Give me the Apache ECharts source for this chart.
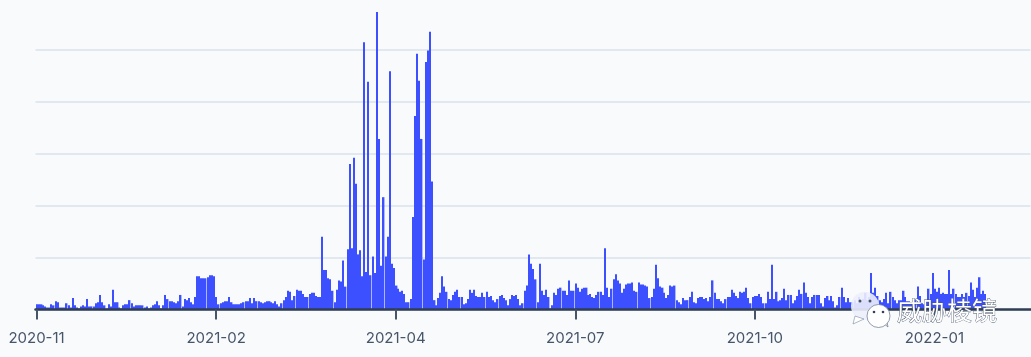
<!DOCTYPE html>
<html>
<head>
<meta charset="utf-8">
<title>chart</title>
<style>
  html, body { margin: 0; padding: 0; background: #f8fafc; }
  #chart { width: 1031px; height: 357px; }
</style>
<script src="https://cdn.jsdelivr.net/npm/echarts@6/dist/echarts.min.js"></script>
</head>
<body>
<div id="chart"></div>
<script>
const tickLabels = ['2020-11', '2021-02', '2021-04', '2021-07', '2021-10', '2022-01'];
const tickEvery = 85;
const slotCount = 471;

// one value per bar, left to right
const counts = [
  5,5,5,4,3,2,2,5,4,8,7,2,2,2,6,4,2,11,4,2,1,3,4,3,10,3,3,3,6,7,14,7,4,1,5,3,19,7,7,2,1,4,5,5,9,6,3,4,4,4,4,2,3,1,2,4,5,8,4,1,4,14,10,8,8,7,
  6,8,14,3,10,9,11,7,5,12,32,32,30,30,30,31,33,33,32,12,5,6,7,8,8,12,7,5,5,5,5,6,7,8,8,11,6,11,8,8,7,6,7,8,8,7,6,8,5,3,6,9,12,18,17,9,13,19,18,
  18,15,12,12,15,16,16,13,12,12,70,38,38,30,29,18,7,19,28,27,47,22,58,140,59,146,121,53,57,32,257,36,219,33,51,35,286,164,42,108,51,70,229,44,40,23,
  20,17,18,15,7,7,10,89,186,246,220,164,48,238,249,267,123,9,4,11,16,32,22,17,10,9,14,17,19,12,12,5,6,10,19,16,19,13,12,12,16,12,17,12,13,9,7,10,
  13,14,11,9,4,10,14,13,14,10,4,6,18,23,53,44,39,29,7,44,18,14,19,12,1,4,16,14,20,21,18,18,14,28,18,18,
  25,21,17,20,21,21,14,15,12,11,14,17,17,14,59,21,12,20,29,34,28,25,16,20,24,25,25,26,18,17,26,24,24,23,22,11,12,20,43,30,22,21,16,11,14,23,22,23,9,7,5,11,9,9,12,17,7,6,11,12,12,10,11,8,12,
  28,16,10,10,8,6,10,12,12,19,16,13,11,17,16,17,21,11,6,12,13,13,15,12,6,6,17,10,43,10,17,8,9,11,20,9,14,14,6,9,13,19,15,26,16,12,6,12,14,14,14,6,3,11,13,9,13,8,2,4,12,21,12,7,11,7,
  7,9,6,12,8,10,16,9,12,35,16,21,13,9,7,10,16,6,17,12,9,6,9,9,18,12,8,8,7,7,9,22,13,6,5,8,20,15,35,20,17,21,15,16,15,15,38,15,20,15,12,12,15,12,16,13,26,19,12,21,31,15,18,15
];

const categories = Array.from({ length: slotCount }, (_, i) =>
  i % tickEvery === 0 ? tickLabels[i / tickEvery] : '');

// the source snaps bars to whole pixels, leaving a faint seam every 6 bars
const renderBar = (params, api) => {
  const i = api.value(0);
  const v = api.value(1);
  const inGroup = (i + 3) % 6;
  const band = api.size([1, 0])[0];
  const groupLeft = Math.round(api.coord([i - inGroup, 0])[0] - band / 2 + 0.5);
  const base = api.coord([i, 0])[1];
  const top = api.coord([i, v])[1];
  return {
    type: 'rect',
    shape: { x: groupLeft + inGroup * 2, y: top, width: inGroup === 5 ? 2.4 : 2, height: base - top },
    style: { fill: '#3d50ff' }
  };
};

const chart = echarts.init(document.getElementById('chart'), undefined, { renderer: 'canvas' });

chart.setOption({
  backgroundColor: '#f8fafc',
  animation: false,
  grid: { left: 35.5, right: 0.5, top: 0, bottom: 47.5 },
  xAxis: {
    type: 'category',
    data: categories,
    z: 5,
    axisLine: { lineStyle: { color: '#2f3e52', width: 2.5 } },
    axisTick: { show: true, alignWithLabel: true, interval: tickEvery - 1, length: 10, lineStyle: { color: '#475569', width: 2 } },
    axisLabel: {
      interval: tickEvery - 1,
      color: '#475569',
      fontFamily: 'Inter',
      fontSize: 15,
      margin: 21
    },
    splitLine: { show: false }
  },
  yAxis: {
    type: 'value',
    min: 0,
    max: 297.6,
    interval: 50,
    axisLine: { show: false },
    axisTick: { show: false },
    axisLabel: { show: false },
    splitLine: { showMaxLine: false, lineStyle: { color: '#e2e8f0', width: 2 } }
  },
  series: [{
    type: 'custom',
    data: counts.map((v, i) => [i, v]),
    encode: { x: 0, y: 1 },
    renderItem: renderBar
  }],
  // watermark sitting on top of the chart
  graphic: [
    { type: 'circle', x: 865, y: 306, shape: { r: 14 }, style: { fill: 'rgba(236,238,252,0.9)' }, z: 100 },
    { type: 'polygon', shape: { points: [[855, 316], [853, 324], [864, 319]] }, style: { fill: 'rgba(255,255,255,0.9)', stroke: '#64748b', lineWidth: 0.5 }, z: 100 },
    { type: 'circle', x: 860, y: 301, shape: { r: 1.5 }, style: { fill: '#475569' }, z: 101 },
    { type: 'circle', x: 870, y: 301, shape: { r: 1.5 }, style: { fill: '#475569' }, z: 101 },
    { type: 'polygon', shape: { points: [[881, 321], [888, 327], [886, 317]] }, style: { fill: '#fff', stroke: '#64748b', lineWidth: 0.7 }, z: 101 },
    { type: 'circle', x: 878.5, y: 316, shape: { r: 11.5 }, style: { fill: '#fff', stroke: '#64748b', lineWidth: 0.7 }, z: 102 },
    { type: 'circle', x: 874, y: 312, shape: { r: 1.3 }, style: { fill: '#334155' }, z: 103 },
    { type: 'circle', x: 883, y: 312, shape: { r: 1.3 }, style: { fill: '#334155' }, z: 103 },
    {
      type: 'text',
      x: 897,
      y: 298,
      z: 104,
      style: {
        text: '威胁棱镜',
        fontFamily: 'Noto Sans CJK SC',
        fontSize: 25,
        fill: '#fff',
        stroke: '#475569',
        lineWidth: 0.8
      }
    }
  ]
});
</script>
</body>
</html>
